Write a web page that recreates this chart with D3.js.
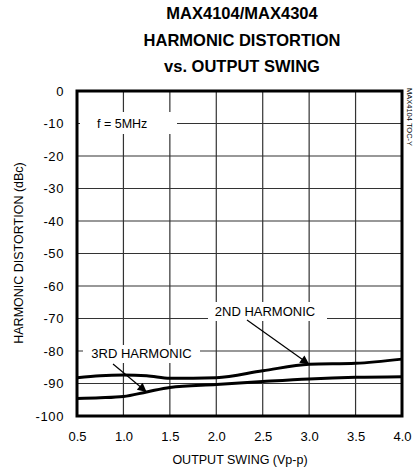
<!DOCTYPE html>
<html><head><meta charset="utf-8">
<script src="https://cdn.jsdelivr.net/npm/d3@7"></script>
<style>body{margin:0;background:#fff}svg{display:block}text{font-family:"Liberation Sans",Arial,sans-serif;fill:#000}</style>
</head><body><svg id="c" width="417" height="475"></svg>
<script>
const titleLines = ["MAX4104/MAX4304","HARMONIC DISTORTION","vs. OUTPUT SWING"];
const xTicks = [0.5,1.0,1.5,2.0,2.5,3.0,3.5,4.0];
const yTicks = [0,-10,-20,-30,-40,-50,-60,-70,-80,-90,-100];
const swing = [0.5,0.75,1.0,1.25,1.5,2.0,2.5,3.0,3.5,4.0];
const second = [-88.2,-87.6,-87.4,-87.6,-88.4,-88.2,-86.1,-84.1,-83.8,-82.5];
const third  = [-94.6,-94.4,-94.0,-92.6,-91.2,-90.3,-89.4,-88.6,-88.1,-87.9];
const labels = [{text:"2ND HARMONIC",lx:265,ly:-67.7,ax:3.0,ay:-84.1},{text:"3RD HARMONIC",lx:141.5,ly:-80.8,ax:1.25,ay:-92.6}];

const svg = d3.select("#c");
const L=77,R=402,T=91,B=416;
const x = d3.scaleLinear().domain([0.5,4.0]).range([L,R]);
const y = d3.scaleLinear().domain([-100,0]).range([B,T]);

const g = svg.append("g");
g.selectAll(".vg").data(xTicks.slice(1,-1)).join("line").attr("x1",d=>x(d)).attr("x2",d=>x(d)).attr("y1",T).attr("y2",B).attr("stroke","#333").attr("stroke-width",1.2);
g.selectAll(".hg").data(yTicks.slice(1,-1)).join("line").attr("y1",d=>y(d)).attr("y2",d=>y(d)).attr("x1",L).attr("x2",R).attr("stroke","#333").attr("stroke-width",1.2);

svg.append("rect").attr("x",80).attr("y",112).attr("width",97).attr("height",22).attr("fill","#fff");
svg.append("rect").attr("x",208).attr("y",302).attr("width",119).attr("height",19).attr("fill","#fff");
svg.append("rect").attr("x",83).attr("y",345).attr("width",117).attr("height",18).attr("fill","#fff");

const line = d3.line().x((d,i)=>x(swing[i])).y(d=>y(d)).curve(d3.curveMonotoneX);
svg.append("path").attr("d",line(second)).attr("fill","none").attr("stroke","#000").attr("stroke-width",3);
svg.append("path").attr("d",line(third)).attr("fill","none").attr("stroke","#000").attr("stroke-width",3);

svg.append("rect").attr("x",L).attr("y",T).attr("width",R-L).attr("height",B-T).attr("fill","none").attr("stroke","#000").attr("stroke-width",3);

const xAxis = d3.axisBottom(x).tickValues(xTicks).tickFormat(d3.format(".1f")).tickSize(0).tickPadding(16);
const xa = svg.append("g").attr("transform",`translate(0,${B})`).call(xAxis);
xa.select(".domain").remove();
xa.selectAll("text").attr("font-size",13).attr("font-family","Liberation Sans, Arial, sans-serif").attr("fill","#000");
const yAxis = d3.axisLeft(y).tickValues(yTicks).tickFormat(d=>d===0?"0":"-"+Math.abs(d)).tickSize(0).tickPadding(13);
const ya = svg.append("g").attr("transform",`translate(${L},0)`).call(yAxis);
ya.select(".domain").remove();
ya.selectAll("text").attr("font-size",13).attr("font-family","Liberation Sans, Arial, sans-serif").attr("fill","#000").attr("letter-spacing",0.6);

titleLines.forEach((t,i)=>svg.append("text").attr("x",242).attr("y",19+i*26.5).attr("text-anchor","middle").attr("font-weight","bold").attr("font-size",16.5).text(t));
svg.append("text").attr("x",240).attr("y",464).attr("text-anchor","middle").attr("font-size",12.5).text("OUTPUT SWING (Vp-p)");
svg.append("text").attr("transform","translate(23,253) rotate(-90)").attr("text-anchor","middle").attr("font-size",12.5).text("HARMONIC DISTORTION (dBc)");
svg.append("text").attr("transform","translate(407,88) rotate(90)").attr("text-anchor","start").attr("font-size",7.5).text("MAX4104 TOC-Y");
svg.append("text").attr("x",97).attr("y",128).attr("font-size",12.5).text("f = 5MHz");

const defs = svg.append("defs");
defs.append("marker").attr("id","ah").attr("viewBox","0 0 10 10").attr("refX",10).attr("refY",5).attr("markerWidth",12).attr("markerHeight",9).attr("markerUnits","userSpaceOnUse").attr("orient","auto")
  .append("path").attr("d","M0,0 L10,5 L0,10 z").attr("fill","#000");
labels.forEach(l=>{
  svg.append("text").attr("x",l.lx).attr("y",y(l.ly)+4.5).attr("text-anchor","middle").attr("font-size",13).text(l.text);
  const sx = l.text.startsWith("2")?247:113, sy = l.text.startsWith("2")?320:364;
  svg.append("line").attr("x1",sx).attr("y1",sy).attr("x2",x(l.ax)).attr("y2",y(l.ay)).attr("stroke","#000").attr("stroke-width",1.2).attr("marker-end","url(#ah)");
});
</script></body></html>
